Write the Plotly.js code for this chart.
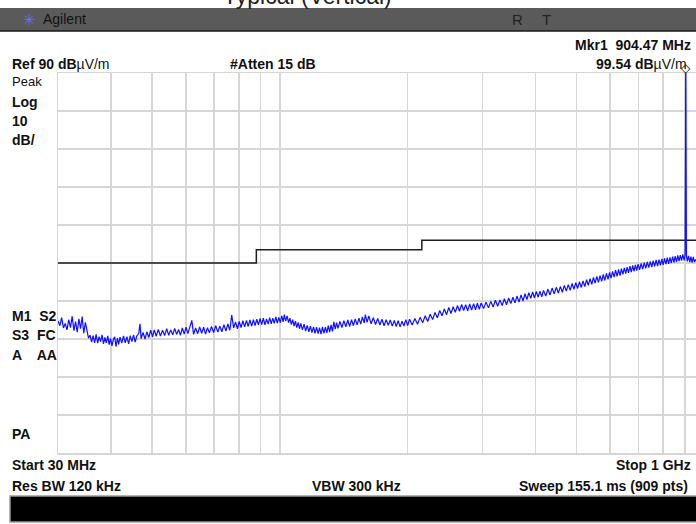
<!DOCTYPE html>
<html>
<head>
<meta charset="utf-8">
<script src="https://cdn.plot.ly/plotly-3.0.1.min.js"></script>
<style>
html,body{margin:0;padding:0;background:#fff;overflow:hidden;}
#chart{width:696px;height:524px;}
</style>
</head>
<body>
<div id="chart"></div>
<script>
// Measured trace (MHz, dBµV/m)
const freqMHz = [30.0,30.3,30.6,30.9,31.2,31.5,31.8,32.1,32.4,32.7,33.0,33.3,33.6,33.9,34.2,34.5,34.8,35.1,35.4,
35.7,36.0,36.3,36.6,36.9,37.2,37.5,37.8,38.1,38.4,38.7,39.0,39.3,39.6,39.9,40.2,40.5,40.8,41.1,41.4,41.7,42.0,42.4,42.8,43.2,43.6,44.0,44.4,44.8,45.2,45.6,46.0,46.5,
46.8,47.1,47.6,48.1,48.6,49.1,49.6,50.1,50.6,51.1,51.7,52.3,52.9,53.5,54.1,54.7,55.3,55.9,56.5,57.1,57.7,58.3,58.9,59.5,60.1,60.7,61.4,62.0,62.6,63.3,64.0,64.7,65.4,66.1,66.8,67.5,68.2,69.0,69.8,70.6,71.4,72.2,73.0,73.8,74.6,75.4,76.2,77.0,77.8,78.6,79.4,80.2,81.0,81.8,82.6,83.4,84.2,85.0,85.8,86.6,87.4,88.2,89.0,89.8,90.6,91.4,92.2,93.0,93.8,94.6,95.4,96.2,97.0,97.8,98.6,99.4,100.2,101.0,101.8,102.4,103.2,104.0,104.8,105.6,106.4,107.2,108.0,108.8,109.6,110.4,111.2,112.0,113.0,114.0,115.0,116.0,117.0,118.0,119.0,120.0,121.0,122.0,123.0,124.0,125.0,126.0,127.0,128.0,129.0,130.0,131.0,132.0,133.0,134.0,135.0,136.0,137.0,138.5,140.0,141.5,143.0,144.5,146.0,147.5,149.0,150.5,152.0,153.5,155.0,156.5,158.0,159.0,160.5,162.0,164.0,166.0,168.0,170.0,172.0,174.0,176.0,178.0,180.0,182.0,184.0,186.0,188.0,190.0,192.0,194.0,196.0,198.0,200.0,202.0,205.0,208.0,211.0,214.0,217.0,220.0,223.0,226.0,229.0,232.0,235.0,238.0,241.0,244.0,247.0,250.0,253.0,256.0,259.0,262.0,265.0,268.0,271.0,274.0,277.0,280.0,283.0,286.0,289.0,292.0,295.0,298.0,302.0,306.0,310.0,314.0,318.0,322.0,326.0,330.0,334.0,338.0,342.0,346.0,350.0,354.0,358.0,362.0,366.0,370.0,374.0,378.0,382.0,386.0,390.0,394.0,398.0,402.0,406.0,410.0,414.0,418.0,423.0,428.0,433.0,438.0,443.0,448.0,453.0,458.0,463.0,468.0,473.0,478.0,483.0,488.0,493.0,498.0,503.0,508.0,513.0,518.0,523.0,528.0,533.0,538.0,543.0,548.0,553.0,558.0,563.0,568.0,573.0,578.0,583.0,588.0,593.0,598.0,603.0,608.0,613.0,618.0,623.0,628.0,633.0,638.0,643.0,648.0,653.0,658.0,663.0,668.0,673.0,678.0,683.0,688.0,693.0,698.0,704.0,710.0,716.0,722.0,728.0,734.0,740.0,746.0,752.0,758.0,764.0,770.0,776.0,782.0,788.0,794.0,800.0,806.0,812.0,818.0,824.0,830.0,836.0,842.0,848.0,854.0,860.0,866.0,872.0,878.0,884.0,890.0,896.0,901.0,903.0,904.47,906.0,907.5,912.0,918.0,924.0,930.0,936.0,942.0,948.0,956.0];
const levelDb = [24.8,23.5,25.6,22.9,24.1,22.4,25.1,23.0,26.0,22.2,24.6,21.8,25.3,22.7,25.9,21.5,24.4,22.1,20.2,
21.0,19.2,20.9,19.0,21.2,18.9,20.6,19.3,21.1,18.7,20.4,19.0,20.8,18.5,20.1,18.2,19.8,20.6,18.0,20.2,18.6,20.5,18.9,20.8,19.0,20.6,18.7,20.9,19.3,21.1,19.2,20.8,21.5,
24.0,20.1,21.7,20.0,21.9,20.4,22.3,20.6,22.4,20.7,
22.5,20.8,22.3,20.9,22.7,21.0,22.4,21.1,22.8,21.2,
22.5,21.0,22.9,21.3,23.1,21.4,23.0,24.9,21.2,22.9,
21.4,23.2,21.5,23.1,21.3,23.0,21.6,23.3,21.7,23.5,
21.8,23.4,21.9,23.8,22.1,24.0,22.3,26.3,22.9,24.5,
22.7,24.6,23.0,24.8,23.2,24.9,23.3,25.0,23.4,25.1,
23.5,25.2,23.7,25.4,23.8,25.5,23.7,25.3,23.9,25.6,
24.0,25.5,24.1,25.8,24.2,25.7,24.3,26.1,24.5,26.4,
24.7,26.1,24.3,25.5,23.8,25.1,23.4,24.7,23.0,24.4,
22.7,24.1,22.4,23.9,22.1,23.6,21.9,23.4,21.7,23.2,
21.5,23.1,21.4,23.0,21.3,23.2,21.5,23.1,21.6,23.5,
21.8,23.7,22.0,24.5,22.6,24.3,22.8,24.6,23.0,24.8,
23.2,25.0,23.3,25.1,23.5,25.3,23.7,25.5,23.9,25.8,
24.2,26.4,24.4,26.1,24.0,25.6,23.8,25.4,23.7,25.2,
23.5,25.1,23.6,25.0,23.4,24.9,23.3,24.8,23.2,24.7,
23.4,25.1,23.5,25.2,23.7,25.4,23.9,25.7,24.3,26.1,
24.6,26.5,25.1,27.0,25.6,27.5,26.1,27.9,26.4,28.3,
26.7,28.5,27.0,28.8,27.3,29.1,27.5,29.0,27.4,29.2,
27.6,29.3,27.7,29.4,27.8,29.5,28.0,29.7,28.2,29.9,
28.4,30.2,28.6,30.3,28.8,30.6,29.0,30.8,29.3,31.0,
29.5,31.3,29.7,31.6,30.0,31.9,30.4,32.2,30.7,32.4,
30.8,32.5,31.0,32.6,31.1,32.8,31.3,33.1,31.6,33.4,
31.9,33.6,32.1,33.8,32.3,34.1,32.6,34.3,32.8,34.6,
33.1,34.8,33.3,35.1,33.5,35.3,33.8,35.6,34.1,35.9,
34.4,36.2,34.7,36.5,34.9,36.7,35.2,37.0,35.4,37.3,
35.7,37.5,36.0,37.8,36.3,38.1,36.5,38.3,36.7,38.5,
37.0,38.7,37.2,38.9,37.4,39.2,37.6,39.4,37.8,39.5,
38.0,39.7,38.2,39.9,38.4,40.1,38.6,40.3,38.8,40.4,
38.9,40.6,39.1,40.8,39.2,40.9,39.4,41.1,39.5,41.2,
39.7,41.4,39.8,41.5,40.0,41.7,40.1,41.8,40.3,42.0,
40.5,42.1,40.6,42.3,40.7,42.2,70.0,99.54,72.0,42.0,
40.4,41.9,40.2,41.7,40.1,41.6,40.3,41.0];

// FCC limit line (MHz, dBµV/m)
const limitFreq = [30, 88, 216, 956];
const limitDb = [40, 43.5, 46, 46];

// Marker
const mkrFreq = [904.47];
const mkrDb = [99.54];

const xGrid = [30,40,50,60,70,80,90,100,200,300,400,500,600,700,800,900];

const xRange = [Math.log10(30), Math.log10(956)];
const yRange = [-10, 90];

// pixel -> paper helpers
const L = 58, R = 696, T = 73, B = 453;
const X = p => (p - L) / (R - L);
const Y = p => (B - p) / (B - T);

const FONT = 'Liberation Sans, Arial, sans-serif';
function txt(text, x, y, anchor, opts) {
  opts = opts || {};
  return {
    xref: 'paper', yref: 'paper', x: X(x), y: Y(y),
    xanchor: anchor, yanchor: 'middle', showarrow: false,
    text: text,
    font: {family: FONT, size: opts.size || 14, color: opts.color || '#111'}
  };
}

// marker position in paper coordinates (clipped just above the top of the screen)
const mkrPX = (Math.log10(mkrFreq[0]) - xRange[0]) / (xRange[1] - xRange[0]);
const mkrPY = (Math.min(mkrDb[0], 91.4) - yRange[0]) / (yRange[1] - yRange[0]);

const traces = [
  {x: limitFreq, y: limitDb, type: 'scatter', mode: 'lines',
   line: {color: '#1e1e1e', width: 1.5, shape: 'hv'}, hoverinfo: 'skip'},
  {x: freqMHz, y: levelDb, type: 'scatter', mode: 'lines',
   line: {color: '#1010ff', width: 1.2}, hoverinfo: 'skip'}
];

const layout = {
  width: 696, height: 524,
  margin: {l: L, r: 696 - R, t: T, b: 524 - B, pad: 0},
  paper_bgcolor: '#ffffff', plot_bgcolor: '#ffffff',
  showlegend: false, hovermode: false,
  xaxis: {type: 'log', range: xRange,
    tickvals: xGrid, showticklabels: false, ticks: '',
    showgrid: true, gridcolor: '#d6d6d6', gridwidth: 1.5,
    showline: true, linecolor: '#d6d6d6', linewidth: 1.5, mirror: true, zeroline: false},
  yaxis: {range: yRange, dtick: 10, tick0: 0, showticklabels: false, ticks: '',
    showgrid: true, gridcolor: '#d6d6d6', gridwidth: 1.5,
    showline: true, linecolor: '#d6d6d6', linewidth: 1.5, mirror: false, zeroline: false},
  shapes: [
    {type: 'rect', xref: 'paper', yref: 'paper', x0: X(0), x1: X(700), y0: Y(31), y1: Y(8),
     fillcolor: '#5a5a5a', line: {width: 0}, layer: 'below'},
    {type: 'line', xref: 'paper', yref: 'paper', x0: X(0), x1: X(700), y0: Y(31), y1: Y(31),
     line: {color: '#1a1a1a', width: 1.5}},
    {type: 'rect', xref: 'paper', yref: 'paper', x0: X(10), x1: X(700), y0: Y(522), y1: Y(496),
     fillcolor: '#000000', line: {color: '#9a9a9a', width: 1.5}}
  ],
  annotations: [
    txt('Typical (Vertical)', 221, -4, 'left', {size: 23, color: '#222'}),
    txt('✳', 21, 19, 'left', {size: 15, color: '#6a6aff'}),
    txt('Agilent', 41, 19, 'left', {size: 14, color: '#111'}),
    txt('R', 510, 19, 'left', {size: 15, color: '#222'}),
    txt('T', 540, 19, 'left', {size: 15, color: '#222'}),
    txt('<b>Mkr1  904.47 MHz</b>', 693, 45, 'right'),
    txt('<b>Ref 90 dB</b>µV/m', 10, 64, 'left'),
    txt('<b>#Atten 15 dB</b>', 228, 64, 'left'),
    txt('<b>99.54 dB</b>µV/m', 689, 64, 'right'),
    txt('Peak', 10, 82, 'left', {size: 13}),
    txt('<b>Log</b>', 10, 102, 'left'),
    txt('<b>10</b>', 10, 121, 'left'),
    txt('<b>dB/</b>', 10, 140, 'left'),
    txt('<b>M1  S2</b>', 10, 316, 'left'),
    txt('<b>S3  FC</b>', 10, 335, 'left'),
    txt('<b>A    AA</b>', 10, 355, 'left'),
    txt('<b>PA</b>', 10, 434, 'left'),
    txt('<b>Start 30 MHz</b>', 10, 465, 'left'),
    txt('<b>Stop 1 GHz</b>', 693, 465, 'right'),
    txt('<b>Res BW 120 kHz</b>', 10, 486, 'left'),
    txt('<b>VBW 300 kHz</b>', 310, 486, 'left'),
    txt('<b>Sweep 155.1 ms (909 pts)</b>', 690, 486, 'right'),
    {xref: 'paper', yref: 'paper', x: mkrPX, y: mkrPY,
     text: '◇', showarrow: false, xanchor: 'center', yanchor: 'middle',
     font: {family: 'DejaVu Sans', size: 12, color: '#111'}}
  ]
};

Plotly.newPlot('chart', traces, layout, {staticPlot: true, displayModeBar: false});
</script>
</body>
</html>
